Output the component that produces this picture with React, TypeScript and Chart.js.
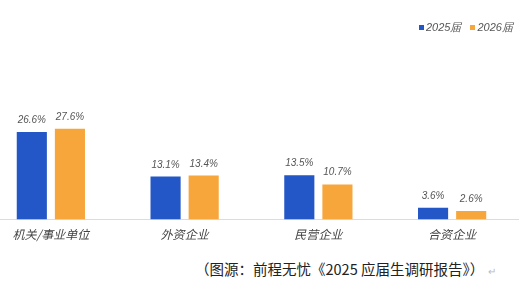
import React, { useEffect, useRef } from "react";
import { Chart, registerables } from "chart.js";

Chart.register(...registerables);

const categories = ["机关/事业单位", "外资企业", "民营企业", "合资企业"];
const series2025 = [26.6, 13.1, 13.5, 3.6];
const series2026 = [27.6, 13.4, 10.7, 2.6];
const seriesNames = ["2025届", "2026届"];
const caption = "（图源：前程无忧《2025 应届生调研报告》）";

const BLUE = "#2356C6";
const ORANGE = "#F7A63B";

const labelPlugin = {
  id: "valueLabels",
  afterDatasetsDraw(chart: any) {
    const ctx = chart.ctx;
    ctx.save();
    ctx.font = "italic 10px 'Liberation Sans', Arial, sans-serif";
    ctx.fillStyle = "#555";
    ctx.textAlign = "center";
    ctx.textBaseline = "alphabetic";
    chart.data.datasets.forEach((ds: any, di: number) => {
      const meta = chart.getDatasetMeta(di);
      meta.data.forEach((el: any, i: number) => {
        ctx.fillText(ds.data[i].toFixed(1) + "%", el.x, el.y - 9);
      });
    });
    ctx.restore();
  },
};

export default function App() {
  const ref = useRef<HTMLCanvasElement | null>(null);
  useEffect(() => {
    if (!ref.current) return;
    const chart = new Chart(ref.current, {
      type: "bar",
      data: {
        labels: categories,
        datasets: [
          { label: seriesNames[0], data: series2025, backgroundColor: BLUE, barPercentage: 0.79, categoryPercentage: 0.57 },
          { label: seriesNames[1], data: series2026, backgroundColor: ORANGE, barPercentage: 0.79, categoryPercentage: 0.57 },
        ],
      },
      options: {
        responsive: false,
        animation: false,
        layout: { padding: { top: 88, left: 0, right: 0, bottom: 0 } },
        plugins: { legend: { display: false }, tooltip: { enabled: false } },
        scales: {
          y: { display: false, min: 0, max: 40 },
          x: {
            grid: { display: false },
            border: { display: true, color: "#dcdcdc", width: 1 },
            ticks: {
              color: "#444",
              padding: 0,
              font: { family: "'Noto Sans CJK SC', sans-serif", size: 12, style: "italic" },
            },
          },
        },
      },
      plugins: [labelPlugin],
    });
    return () => chart.destroy();
  }, []);

  return (
    <div style={{ position: "absolute", left: 0, top: 0, width: 522, height: 295, overflow: "hidden", background: "#fff" }}>
      <canvas ref={ref} width={535} height={242} style={{ position: "absolute", left: -16, top: 0 }} />
      <div style={{ position: "absolute", top: 20, left: 419, display: "flex", alignItems: "center", fontFamily: "'Liberation Sans', Arial, sans-serif", fontStyle: "italic", fontSize: 11, color: "#555", whiteSpace: "nowrap" }}>
        <span style={{ width: 5, height: 5, background: BLUE, display: "inline-block", marginRight: 2 }} />
        <span>{seriesNames[0]}</span>
        <span style={{ width: 5, height: 5, background: ORANGE, display: "inline-block", marginLeft: 9, marginRight: 2 }} />
        <span>{seriesNames[1]}</span>
      </div>
      <div style={{ position: "absolute", top: 258, left: 195, fontFamily: "'Noto Sans CJK SC', sans-serif", fontSize: 14.5, color: "#222", whiteSpace: "nowrap" }}>
        {caption}<span style={{ color: "#bbb", fontSize: 10, marginLeft: 4 }}>↵</span>
      </div>
    </div>
  );
}
